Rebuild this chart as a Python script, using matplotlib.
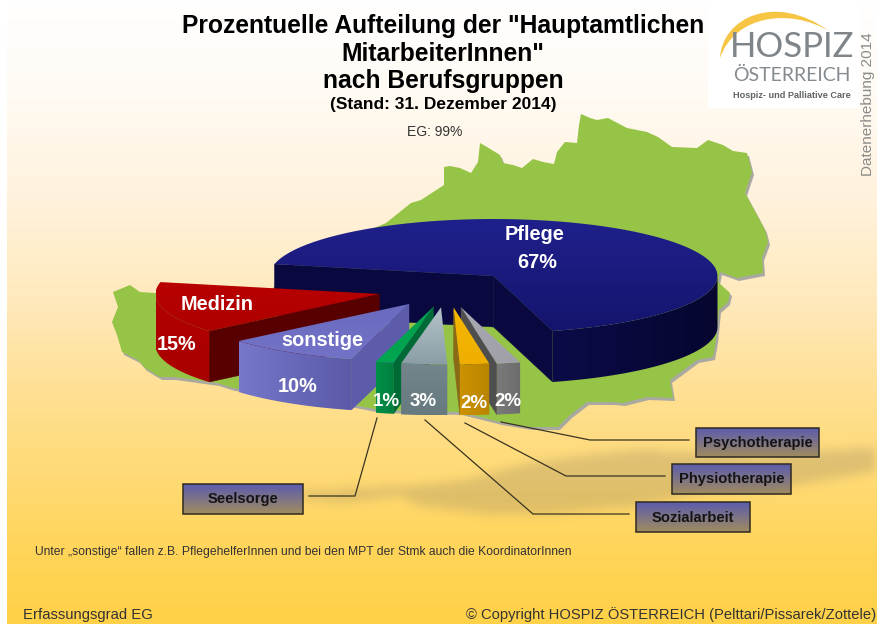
import numpy as np
import matplotlib
matplotlib.use("Agg")
import matplotlib.pyplot as plt
from matplotlib.colors import to_rgb
from matplotlib.path import Path
from matplotlib.patches import Polygon, Rectangle, PathPatch

plt.rcParams['font.family'] = ['Liberation Sans', 'DejaVu Sans']

# Daten
groups = ['Pflege', 'Medizin', 'sonstige', 'Seelsorge', 'Sozialarbeit', 'Physiotherapie', 'Psychotherapie']
shares = [67.4, 14.6, 9.6, 1.3, 3.3, 2.1, 1.7]
share_labels = ['67%', '15%', '10%', '1%', '3%', '2%', '2%']

# Aussehen der Tortenstuecke, in Reihenfolge der Gruppen
explode = [(0, 0), (-114, 18), (-84.5, 28), (-60, 30.7), (-52.5, 31.3), (-40, 31.3), (-32.5, 31.3)]
top_cols = [('#20208c', '#14146e'), ('#b80000', '#ae0000'), ('#6a6abf', '#7272c6'), ('#00a050', '#00a651'),
            ('#b4c2c8', '#8b9ea6'), ('#f4b800', '#f0ae00'), ('#a9a9b2', '#a0a0a8')]
rim_cols = [('#0b0b48', '#060630'), ('#b40000', '#a80000'), ('#7777cb', '#5a5aa8'), ('#009048', '#007f3e'),
            ('#74858b', '#667a80'), ('#cc9200', '#b88400'), ('#7a7a7a', '#6c6c6c')]
wall_cols = ['#090940', '#580000', '#5c5cab', '#006a36', '#55666c', '#8a6a14', '#4e4e4e']
draw_order = [0, 1, 2, 3, 6, 5, 4]

start_angle = -74.7
cx, cy = 493.5, 276
rx, ry = 224, 57
depth = 51

# Umriss Oesterreich (Hintergrundbild)
austria = np.array([
    (444, 167), (450, 166), (460, 168), (471, 173), (478, 162), (480, 143), (487, 147), (500, 155),
    (503, 163), (513, 165), (522, 168), (533, 159), (543, 162), (554, 164), (557, 152), (565, 142),
    (577, 143), (579, 125), (581, 114), (590, 118), (597, 120), (608, 118), (627, 128), (647, 132),
    (658, 137), (672, 147), (697, 148), (708, 140), (723, 145), (733, 151), (747, 153), (752, 172),
    (745, 193), (757, 215), (765, 230), (768, 242), (762, 258), (763, 273), (737, 278), (720, 272),
    (718, 282), (730, 293), (728, 302), (719, 310), (716, 340), (713, 357), (697, 360), (670, 380),
    (673, 398), (647, 397), (623, 403), (613, 402), (587, 402), (570, 415), (558, 427), (530, 427),
    (500, 422), (480, 417), (460, 412), (380, 410), (300, 395), (233, 388), (217, 383), (174, 377),
    (160, 377), (145, 368), (138, 360), (122, 352), (117, 335), (112, 322), (118, 307), (113, 292),
    (130, 285), (140, 292), (155, 293), (271, 290), (300, 260), (386, 223), (411, 203), (421, 200),
    (444, 185)])
ground_shadow = np.array([
    (302, 490), (360, 487), (420, 484), (470, 478), (505, 468), (530, 462), (580, 455), (640, 449),
    (700, 452), (760, 455), (820, 450), (877, 446), (877, 470), (790, 485), (700, 492), (640, 505),
    (560, 512), (480, 512), (420, 505), (400, 495), (340, 502), (302, 498)])

bg_y = [0, 100, 200, 300, 400, 480, 560, 624]
bg_cols = ['#ffffff', '#fffaf2', '#fff2dc', '#ffe9bc', '#ffdf90', '#ffda74', '#ffd456', '#ffd148']

# Beschriftungskaesten: x0, y0, x1, y1 und Linie
boxes = {
    'Psychotherapie': ((696, 428, 819, 457), [(501, 422), (590, 440), (689, 440)]),
    'Physiotherapie': ((672, 464, 791, 494), [(465, 423), (566, 476), (665, 476)]),
    'Sozialarbeit': ((636, 502, 750, 532), [(425, 420), (533, 514), (629, 514)]),
    'Seelsorge': ((183, 484, 303, 514), [(377, 418), (355, 496), (309, 496)]),
}

fig = plt.figure(figsize=(8.77, 6.24), dpi=100)
ax = fig.add_axes([0, 0, 1, 1])


def grad_fill(points, c0, c1, vertical=True, zorder=3):
    # Polygon mit Farbverlauf, ueber ein zugeschnittenes imshow
    points = np.asarray(points)
    x0, y0 = points.min(axis=0)
    x1, y1 = points.max(axis=0)
    t = np.linspace(0, 1, 64)
    rgb = np.outer(1 - t, to_rgb(c0)) + np.outer(t, to_rgb(c1))
    img = rgb[:, None, :] if vertical else rgb[None, :, :]
    im = ax.imshow(img, extent=(x0, x1, y1, y0), aspect='auto', zorder=zorder, interpolation='bilinear')
    patch = Polygon(points, closed=True, transform=ax.transData, facecolor='none', edgecolor='none')
    ax.add_patch(patch)
    im.set_clip_path(patch)


def arc(ax0, ay0, a0, a1, dy=0):
    th = np.radians(np.linspace(a0, a1, 80))
    return np.column_stack([ax0 + rx * np.cos(th), ay0 - ry * np.sin(th) + dy])


# Hintergrund
t = np.linspace(0, 624, 312)
grad = np.column_stack([np.interp(t, bg_y, [to_rgb(c)[k] for c in bg_cols]) for k in range(3)])
ax.imshow(grad[:, None, :], extent=(7, 877, 624, 0), aspect='auto', zorder=0)

# weicher Schatten unter der Karte
gx, gy = np.meshgrid(np.arange(0, 877, 2), np.arange(430, 530, 2))
mask = Path(ground_shadow).contains_points(np.column_stack([gx.ravel(), gy.ravel()])).reshape(gx.shape).astype(float)
kernel = np.ones(5) / 5
for _ in range(3):
    mask = np.apply_along_axis(lambda r: np.convolve(r, kernel, mode='same'), 0, mask)
    mask = np.apply_along_axis(lambda r: np.convolve(r, kernel, mode='same'), 1, mask)
shadow = np.zeros(mask.shape + (4,))
shadow[..., :3] = to_rgb('#8a7a60')
shadow[..., 3] = mask * 0.27
ax.imshow(shadow, extent=(0, 877, 530, 430), aspect='auto', zorder=1, interpolation='bilinear')

# Karte
ax.add_patch(Polygon(austria + [2, 3], closed=True, facecolor='#a9a9a2', edgecolor='none', zorder=1.5))
ax.add_patch(Polygon(austria, closed=True, facecolor='#96c446', edgecolor='none', zorder=2))

# Torte
edges = start_angle + np.concatenate([[0], np.cumsum(shares)]) * 3.6
for i in draw_order:
    a0, a1 = edges[i], edges[i + 1]
    ox, oy = cx + explode[i][0], cy + explode[i][1]
    apex = np.array([ox, oy])
    z = 3 + draw_order.index(i) * 0.1
    # Seitenwaende
    for ang, norm in ((a0, a0 - 90), (a1, a1 + 90)):
        if np.sin(np.radians(norm)) < 0:
            corner = arc(ox, oy, ang, ang)[0]
            wall = [apex, corner, corner + [0, depth], apex + [0, depth]]
            ax.add_patch(Polygon(wall, closed=True, facecolor=wall_cols[i], edgecolor=wall_cols[i], lw=0.3, zorder=z))
    # Rand, nur der vordere Teil
    lo, hi = a0 % 360, a0 % 360 + (a1 - a0)
    front = []
    for shift in (-360, 0):
        l, h = max(lo + shift, 180), min(hi + shift, 360)
        if h > l:
            front.append((l, h))
    for l, h in front:
        top_arc = arc(ox, oy, l, h)
        rim = np.vstack([top_arc, top_arc[::-1] + [0, depth]])
        grad_fill(rim, rim_cols[i][0], rim_cols[i][1], vertical=i in (1, 4), zorder=z + 0.01)
    # Deckflaeche
    top = np.vstack([[apex], arc(ox, oy, a0, a1)])
    grad_fill(top, top_cols[i][0], top_cols[i][1], vertical=True, zorder=z + 0.02)

# Beschriftungen in der Torte
label_pos = {'Pflege': (535, 235, 537, 262), 'Medizin': (217, 304, 177, 345), 'sonstige': (322, 340, 298, 387),
             'Seelsorge': (None, None, 386, 402), 'Sozialarbeit': (None, None, 423, 401),
             'Physiotherapie': (None, None, 474, 403), 'Psychotherapie': (None, None, 508, 401)}
for g, lab in zip(groups, share_labels):
    nx, ny, px, py = label_pos[g]
    if nx is not None:
        ax.text(nx, ny, g, color='white', fontsize=14.3, fontweight='bold', ha='center', va='center', zorder=5)
    ax.text(px, py, lab, color='white', fontsize=14.3 if nx is not None else 13.5, fontweight='bold',
            ha='center', va='center', zorder=5)

# Kaesten und Linien
for name, (box, line) in boxes.items():
    x0, y0, x1, y1 = box
    ax.plot(*zip(*line), color='#3a3420', lw=0.9, zorder=2.9 if name == 'Psychotherapie' else 3)
    grad_fill([(x0, y0), (x1, y0), (x1, y1), (x0, y1)], '#5c5cae', '#a08c5e', zorder=4)
    ax.add_patch(Rectangle((x0, y0), x1 - x0, y1 - y0, facecolor='none', edgecolor='#2e2a20', lw=1.1, zorder=4.1))
    ax.text((x0 + x1) / 2, (y0 + y1) / 2 + 0.5, name, fontsize=10.6, fontweight='bold', color='#141414',
            ha='center', va='center', zorder=5)

# Titel
ax.text(443, 26, 'Prozentuelle Aufteilung der "Hauptamtlichen', fontsize=17.7, fontweight='bold', ha='center', va='center', zorder=6)
ax.text(443, 54, 'MitarbeiterInnen"', fontsize=17.7, fontweight='bold', ha='center', va='center', zorder=6)
ax.text(443, 81, 'nach Berufsgruppen', fontsize=17.7, fontweight='bold', ha='center', va='center', zorder=6)
ax.text(443, 105, '(Stand: 31. Dezember 2014)', fontsize=12.5, fontweight='bold', ha='center', va='center', zorder=6)
ax.text(435, 132, 'EG: 99%', fontsize=10, color='#333333', ha='center', va='center', zorder=6)

# Logo
ax.add_patch(Rectangle((708, 0), 152, 108, facecolor='white', edgecolor='none', zorder=5))
moon = Path([(720, 58), (722, 18), (775, -8), (829, 31), (790, 8), (735, 15), (720, 58)],
            [Path.MOVETO, Path.CURVE4, Path.CURVE4, Path.CURVE4, Path.CURVE4, Path.CURVE4, Path.CURVE4])
ax.add_patch(PathPatch(moon, facecolor='#f6c544', edgecolor='none', zorder=5.1))
ax.text(792, 47, 'HOSPIZ', fontsize=25, family='Lato', color='#7f8588', ha='center', va='center', zorder=6)
ax.text(792, 75, 'ÖSTERREICH', fontsize=14, family='Lato', color='#858b8e', ha='center', va='center', zorder=6)
ax.text(792, 95, 'Hospiz- und Palliative Care', fontsize=6.6, fontweight='bold', color='#5e6365', ha='center', va='center', zorder=6)
ax.text(868, 104, 'Datenerhebung 2014', fontsize=11, color='#8a8a8a', rotation=90, ha='center', va='center', zorder=6)

# Fusszeilen
ax.text(35, 552, 'Unter „sonstige“ fallen z.B. PflegehelferInnen und bei den MPT der Stmk auch die KoordinatorInnen',
        fontsize=8.7, color='#333333', ha='left', va='center', zorder=6)
ax.text(23, 615, 'Erfassungsgrad EG', fontsize=10.7, color='#333333', ha='left', va='center', zorder=6)
ax.text(876, 615, '© Copyright HOSPIZ ÖSTERREICH (Pelttari/Pissarek/Zottele)', fontsize=10.65, color='#333333',
        ha='right', va='center', zorder=6)

ax.set_xlim(0, 877)
ax.set_ylim(624, 0)
ax.axis('off')
fig.savefig('out.png', dpi=100)
